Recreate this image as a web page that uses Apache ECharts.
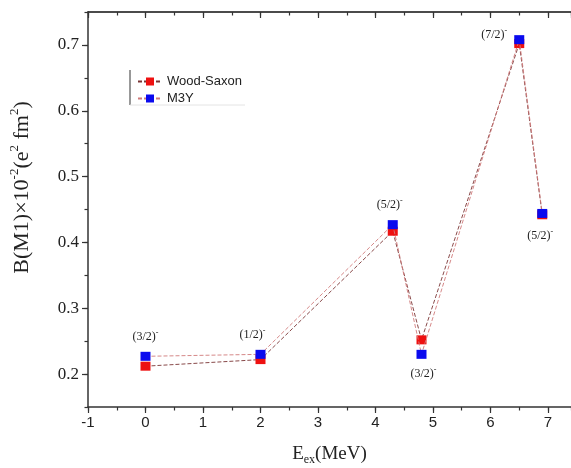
<!DOCTYPE html>
<html>
<head>
<meta charset="utf-8">
<script src="https://cdn.jsdelivr.net/npm/echarts@6/dist/echarts.min.js"></script>
<style>
  html, body { margin: 0; padding: 0; background: #fff; }
  #chart { width: 571px; height: 468px; }
</style>
</head>
<body>
<div id="chart"></div>
<script>
  // excitation energies (MeV) and B(M1) values
  const energies = [0, 2, 4.3, 4.8, 6.5, 6.9]
  const woodSaxon = [0.212, 0.222, 0.417, 0.252, 0.702, 0.442]
  const m3y = [0.227, 0.230, 0.427, 0.230, 0.708, 0.444]
  const spins = ['(3/2)', '(1/2)', '(5/2)', '(3/2)', '(7/2)', '(5/2)']

  const serif = 'Liberation Serif'
  const sans = 'Liberation Sans'

  // label placement per point (style only)
  const labelPlace = [
    { position: 'top', offset: [0, -2] },
    { position: 'top', offset: [-8, -2] },
    { position: 'top', offset: [-3, -2] },
    { position: 'bottom', offset: [2, 2] },
    { position: 'left', offset: [-2, -5] },
    { position: 'bottom', offset: [-2, 5] }
  ]

  const supRich = {
    a: { fontFamily: serif, fontSize: 12, color: '#222', lineHeight: 16 },
    s: { fontFamily: serif, fontSize: 8, color: '#222', verticalAlign: 'top', lineHeight: 16 }
  }

  const chart = echarts.init(document.getElementById('chart'))

  const xBase = { type: 'value', min: -1, max: 7.4, gridIndex: 0 }
  const yBase = { type: 'value', min: 0.15, max: 0.75, gridIndex: 0 }
  const axisColor = '#333'

  chart.setOption({
    animation: false,
    grid: { left: 88, right: 0, top: 12, bottom: 61, outerBoundsMode: 'none', containLabel: false },
    legend: {
      orient: 'vertical',
      left: 132,
      top: 70,
      itemWidth: 24,
      itemHeight: 10,
      itemGap: 4,
      textStyle: { fontFamily: sans, fontSize: 13, color: '#222' },
      data: ['Wood-Saxon', 'M3Y']
    },
    graphic: [{
      type: 'line',
      shape: { x1: 130, y1: 70, x2: 130, y2: 105 },
      style: { stroke: '#333', lineWidth: 1 }
    }, {
      type: 'line',
      shape: { x1: 130, y1: 105, x2: 245, y2: 105 },
      style: { stroke: '#e4e4e4', lineWidth: 1 }
    }],
    xAxis: [
      Object.assign({}, xBase, {
        position: 'bottom',
        interval: 1,
        axisLine: { onZero: false, lineStyle: { color: axisColor, width: 1.5 } },
        axisTick: { length: 6, lineStyle: { color: axisColor, width: 1.2 } },
        axisLabel: { fontFamily: sans, fontSize: 15, color: '#222', margin: 8, showMaxLabel: false },
        splitLine: { show: false },
        name: 'E{b|ex}(MeV)',
        nameLocation: 'middle',
        nameGap: 36,
        nameTextStyle: {
          fontFamily: serif, fontSize: 19, color: '#222',
          rich: {
            b: { fontFamily: serif, fontSize: 12, color: '#222', verticalAlign: 'bottom', lineHeight: 23 }
          }
        }
      }),
      Object.assign({}, xBase, {
        position: 'bottom',
        interval: 0.5,
        axisLine: { show: false, onZero: false },
        axisTick: { length: 3.5, lineStyle: { color: axisColor, width: 1.2 } },
        axisLabel: { show: false },
        splitLine: { show: false }
      }),
      Object.assign({}, xBase, {
        position: 'top',
        interval: 1,
        axisLine: { onZero: false, lineStyle: { color: '#111', width: 1.5 } },
        axisTick: { inside: true, length: 6, lineStyle: { color: axisColor, width: 1.2 } },
        axisLabel: { show: false },
        splitLine: { show: false }
      }),
      Object.assign({}, xBase, {
        position: 'top',
        interval: 0.5,
        axisLine: { show: false, onZero: false },
        axisTick: { inside: true, length: 3.5, lineStyle: { color: axisColor, width: 1.2 } },
        axisLabel: { show: false },
        splitLine: { show: false }
      })
    ],
    yAxis: [
      Object.assign({}, yBase, {
        position: 'left',
        axisLine: { show: true, onZero: false, lineStyle: { color: axisColor, width: 1.5 } },
        axisTick: { show: true, length: 6, lineStyle: { color: axisColor, width: 1.2 } },
        axisLabel: {
          fontFamily: serif, fontSize: 17, color: '#222', margin: 9,
          showMinLabel: false, showMaxLabel: false,
          formatter: v => v.toFixed(1)
        },
        splitLine: { show: false },
        name: 'B(M1)×10{s|-2}(e{s|2} fm{s|2})',
        nameLocation: 'middle',
        nameRotate: 90,
        nameGap: 52,
        nameTextStyle: {
          fontFamily: serif, fontSize: 22, color: '#222',
          padding: [0, 0, 0, 44],
          rich: {
            s: { fontFamily: serif, fontSize: 13, color: '#222', verticalAlign: 'top', lineHeight: 28 }
          }
        }
      }),
      Object.assign({}, yBase, {
        position: 'left',
        interval: 0.05,
        axisLine: { show: false, onZero: false },
        axisTick: { show: true, length: 3.5, lineStyle: { color: axisColor, width: 1.2 } },
        axisLabel: { show: false },
        splitLine: { show: false }
      })
    ],
    series: [
      {
        name: 'Wood-Saxon',
        type: 'line',
        xAxisIndex: 0,
        yAxisIndex: 0,
        symbol: 'rect',
        symbolSize: [10, 9],
        itemStyle: { color: '#ee1111' },
        lineStyle: { color: '#7a3434', width: 0.9, type: [4, 2] },
        data: energies.map((e, i) => [e, woodSaxon[i]]),
        z: 2
      },
      {
        name: 'M3Y',
        type: 'line',
        xAxisIndex: 0,
        yAxisIndex: 0,
        symbol: 'rect',
        symbolSize: [10, 9],
        itemStyle: { color: '#0a0aee' },
        lineStyle: { color: '#d07a7a', width: 0.9, type: [4, 2] },
        data: energies.map((e, i) => ({
          value: [e, m3y[i]],
          label: Object.assign({
            show: true,
            formatter: '{a|' + spins[i] + '}{s|-}',
            rich: supRich
          }, labelPlace[i])
        })),
        z: 3
      }
    ]
  })
</script>
</body>
</html>
